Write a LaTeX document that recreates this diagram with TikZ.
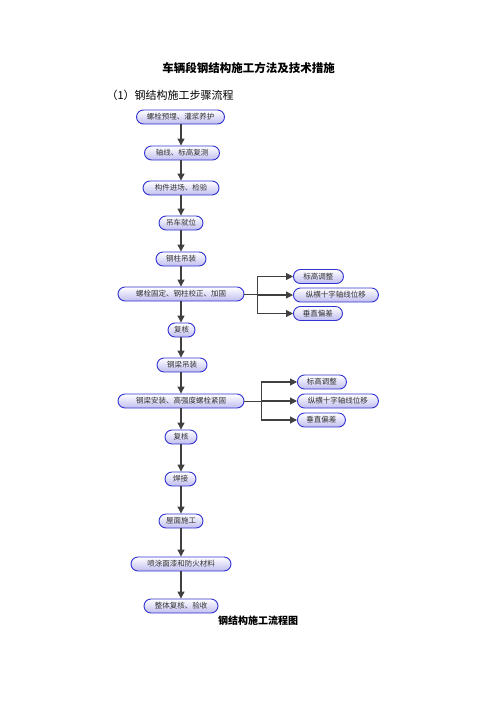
\documentclass[tikz,border=0pt]{standalone}
\usepackage{fontspec}
\setmainfont{Noto Sans CJK SC}
\usepackage{tikz}
\usetikzlibrary{shapes, arrows.meta, positioning, calc}
\definecolor{stepblue}{RGB}{50, 50, 210}
\definecolor{steplav}{RGB}{192, 190, 240}
\definecolor{flowgray}{RGB}{64, 64, 64}

\tikzset{
  stepbox/.style={draw=stepblue, line width=0.9pt, rounded corners=7pt,
    top color=white, bottom color=steplav, minimum height=14pt,
    inner sep=0pt, font=\fontsize{7.5}{8}\selectfont, text=black!80},
  flow/.style={draw=flowgray, line width=1.1pt,
    -{Triangle[length=7pt, width=7pt]}},
  branch/.style={draw=flowgray, line width=0.8pt}
}

\begin{document}
\begin{tikzpicture}[x=1pt, y=-1pt]
  \useasboundingbox (0,0) rectangle (496,702);
  \node[font=\fontsize{11.5}{12}\selectfont\bfseries] (title) at (248.5,68) {车辆段钢结构施工方法及技术措施};
  \node[anchor=west, font=\fontsize{11}{12}\selectfont] (sub) at (103,95) {（1）钢结构施工步骤流程};

  % main column
  \node[stepbox, minimum width=88pt]  (s1)  at (180.5,117) {螺栓预埋、灌浆养护};
  \node[stepbox, minimum width=75pt]  (s2)  at (182,153)   {轴线、标高复测};
  \node[stepbox, minimum width=76pt]  (s3)  at (181,188)   {构件进场、检验};
  \node[stepbox, minimum width=44pt]  (s4)  at (181,223)   {吊车就位};
  \node[stepbox, minimum width=50pt]  (s5)  at (181,259)   {钢柱吊装};
  \node[stepbox, minimum width=126pt] (s6)  at (181,294)   {螺栓固定、钢柱校正、加固};
  \node[stepbox, minimum width=27pt]  (s7)  at (181.5,330) {复核};
  \node[stepbox, minimum width=50pt]  (s8)  at (182,365)   {钢梁吊装};
  \node[stepbox, minimum width=126pt] (s9)  at (181,401)   {钢梁安装、高强度螺栓紧固};
  \node[stepbox, minimum width=32pt]  (s10) at (181,437)   {复核};
  \node[stepbox, minimum width=31pt]  (s11) at (180.5,479) {焊接};
  \node[stepbox, minimum width=44pt]  (s12) at (181,521)   {屋面施工};
  \node[stepbox, minimum width=100pt] (s13) at (181,564)   {喷涂面漆和防火材料};
  \node[stepbox, minimum width=74pt]  (s14) at (181,606)   {整体复核、验收};

  \foreach \a/\b in {s1/s2, s2/s3, s3/s4, s4/s5, s5/s6, s6/s7, s7/s8,
                     s8/s9, s9/s10, s10/s11, s11/s12, s12/s13, s13/s14}
    \draw[flow] (\a.south -| 181,0) -- (\b.north -| 181,0);

  % checks after column fixing
  \node[stepbox, minimum width=50pt, anchor=west] (c1) at (293,276.5) {标高调整};
  \node[stepbox, minimum width=85pt, anchor=west] (c2) at (293,295)   {纵横十字轴线位移};
  \node[stepbox, minimum width=49pt, anchor=west] (c3) at (293,313.5) {垂直偏差};
  \coordinate (j1) at (257,294);
  \draw[branch] (s6.east) -- (j1);
  \draw[branch] (j1 |- c1) -- (j1 |- c3);
  \foreach \c in {c1,c2,c3} \draw[flow] (j1 |- \c) -- (\c.west);

  % checks after beam fixing
  \node[stepbox, minimum width=49pt, anchor=west] (d1) at (297,382) {标高调整};
  \node[stepbox, minimum width=81pt, anchor=west] (d2) at (297,401) {纵横十字轴线位移};
  \node[stepbox, minimum width=48pt, anchor=west] (d3) at (297,420) {垂直偏差};
  \coordinate (j2) at (261,401);
  \draw[branch] (s9.east) -- (j2);
  \draw[branch] (j2 |- d1) -- (j2 |- d3);
  \foreach \d in {d1,d2,d3} \draw[flow] (j2 |- \d) -- (\d.west);

  \node[font=\fontsize{10}{11}\selectfont\bfseries] (cap) at (258,621) {钢结构施工流程图};
\end{tikzpicture}
\end{document}
